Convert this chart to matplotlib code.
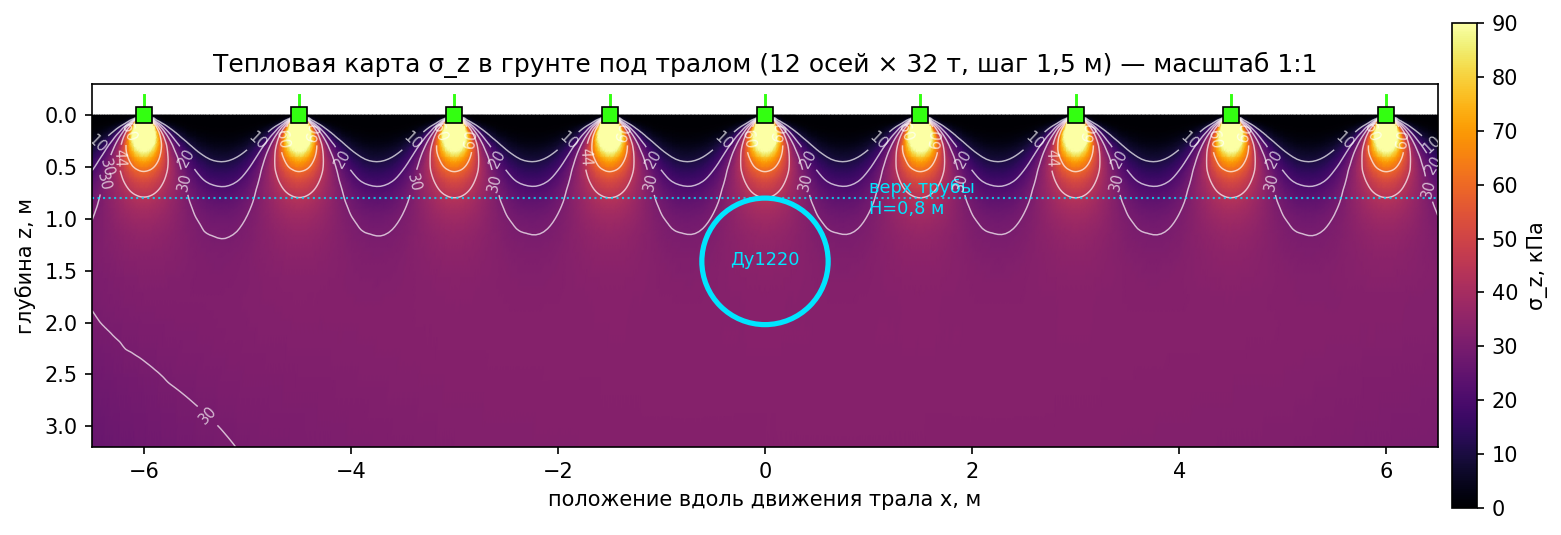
import numpy as np
import matplotlib
matplotlib.use("Agg")
import matplotlib.pyplot as plt
import matplotlib.tri as mtri
from matplotlib.patches import Circle

# axles visible in the frame
axles = [-6.0, -4.5, -3.0, -1.5, 0.0, 1.5, 3.0, 4.5, 6.0]

# sigma_z read around one axle: rows = depth, columns = distance from the axle
depths = [0, 0.05, 0.1, 0.15, 0.2, 0.25, 0.3, 0.4, 0.5, 0.6, 0.7, 0.8, 0.9, 1.0, 1.1, 1.2, 1.4, 1.7, 2.0, 2.5, 3.2]
offsets = [0, 0.05, 0.1, 0.15, 0.2, 0.25, 0.3, 0.4, 0.5, 0.6, 0.75]
sigma_tile = [
    [250, 0, 0, 0, 0, 0, 0, 0, 0, 0, 0],
    [250, 158, 25, 6.3, 2.2, 0.9, 0.46, 0.15, 0.06, 0.03, 0.03],
    [250, 203, 79, 30, 12.7, 6, 3.2, 1.1, 0.47, 0.28, 0.19],
    [211, 171, 101, 53, 27.4, 14.8, 8.4, 3.2, 1.44, 0.88, 0.62],
    [158, 140, 101, 65, 39.6, 24.1, 15, 6.3, 3.2, 1.95, 1.4],
    [127, 117, 94, 68.5, 47, 31.7, 21.3, 10.3, 5.5, 3.4, 2.54],
    [106, 100, 85.6, 67.6, 50.6, 36.8, 26.8, 14.3, 8.2, 5.3, 4.1],
    [80, 77, 70.5, 61, 51, 41, 33.3, 21, 13.7, 9.8, 7.9],
    [64.8, 63.4, 60, 54.6, 48.4, 41.8, 36, 25.7, 18.6, 14.4, 12.3],
    [55, 54.1, 52, 48.9, 44.9, 40.5, 36.5, 28.6, 22.5, 18.5, 16.6],
    [48.4, 48, 46.7, 44.6, 41.9, 38.9, 36.3, 30.6, 25.6, 22.3, 20.5],
    [43.9, 43.6, 42.7, 41.3, 39.5, 37.6, 35.8, 31.6, 27.8, 25.2, 23.7],
    [40.7, 40.5, 39.9, 39.1, 38, 36.6, 35.2, 32.2, 29.4, 27.3, 26.2],
    [38.5, 38.4, 38.1, 37.4, 36.7, 35.8, 34.7, 32.5, 30.5, 29, 28.1],
    [37, 36.9, 36.6, 36.2, 35.7, 35, 34.3, 32.7, 31.3, 30.1, 29.5],
    [35.8, 35.8, 35.6, 35.3, 34.9, 34.4, 33.9, 32.9, 31.7, 31, 30.5],
    [34.4, 34.4, 34.3, 34.2, 34, 33.8, 33.5, 33, 32.4, 32, 31.7],
    [33.5, 33.5, 33.4, 33.4, 33.3, 33.2, 33.2, 33, 32.8, 32.7, 32.6],
    [33.3, 33.3, 33.3, 33.3, 33.2, 33.2, 33.2, 33.2, 33.1, 33.1, 33.1],
    [33.2, 33.2, 33.2, 33.2, 33.2, 33.2, 33.2, 33.2, 33.2, 33.2, 33.2],
    [33.2, 33.2, 33.2, 33.2, 33.2, 33.2, 33.2, 33.2, 33.2, 33.2, 33.2],
]

# how much lower the field reads towards the ends of the axle row
drop_x = [-6.5, -6.2, -5.75, -5, -3, -1, 1, 3, 5, 6.5]
drop_z = [0, 0.5, 1.0, 1.5, 2.0, 2.5, 3.2]
drop_table = [
    [0, 0, 0, 0, 0, 0, 0, 0, 0, 0],
    [0.1, 0.08, 0.05, 0.03, 0, 0, 0, 0, 0, 0.03],
    [0.6, 0.5, 0.35, 0.2, 0.05, 0.02, 0.02, 0.03, 0.07, 0.2],
    [1.9, 1.4, 1.0, 0.55, 0.17, 0.07, 0.06, 0.09, 0.2, 0.55],
    [3.4, 2.6, 1.96, 1.12, 0.37, 0.17, 0.15, 0.2, 0.45, 1.1],
    [5.2, 4.0, 3.0, 1.85, 0.65, 0.31, 0.27, 0.37, 0.85, 1.85],
    [6.95, 5.7, 4.5, 2.97, 1.2, 0.62, 0.54, 0.7, 1.44, 3.0],
]

levels = [10, 20, 30, 44, 60]

# contour label spots
labels_10 = [(-6.45, 0.28), (-4.9, 0.25), (-3.4, 0.25), (-1.9, 0.25), (-0.4, 0.25),
             (1.1, 0.25), (2.6, 0.25), (4.1, 0.25), (5.6, 0.25), (6.43, 0.3)]
labels_20 = [(-6.38, 0.5), (-5.6, 0.42), (-4.08, 0.42), (-2.58, 0.42), (-1.08, 0.42),
             (0.42, 0.42), (1.92, 0.42), (3.42, 0.42), (4.92, 0.42), (6.42, 0.5)]
labels_30 = [(-6.35, 0.65), (-5.62, 0.65), (-3.39, 0.65), (-2.6, 0.65), (-1.11, 0.65),
             (0.39, 0.65), (1.89, 0.65), (3.39, 0.65), (4.89, 0.65), (6.38, 0.72), (-5.44, 2.95)]
labels_44 = [(-6.23, 0.41), (-4.68, 0.23), (-2.83, 0.23), (-1.72, 0.4), (-0.18, 0.23),
             (1.68, 0.23), (2.77, 0.41), (4.32, 0.23), (6.18, 0.23)]
labels_60 = [(-6.1, 0.18), (-4.39, 0.18), (-3.11, 0.18), (-1.39, 0.18), (0.11, 0.18),
             (1.39, 0.18), (3.11, 0.18), (4.61, 0.18), (5.89, 0.18)]

cyan = "#00e5ff"
green = "#33ff11"

# put the one-axle table side by side for every axle in the frame
depths = np.array(depths)
offsets = np.array(offsets)
sigma_tile = np.array(sigma_tile, dtype=float)
unit = np.hstack([sigma_tile[:, :0:-1], sigma_tile[:, :-1]])
unit_x = np.concatenate([-offsets[:0:-1], offsets[:-1]])
x = np.concatenate([a + unit_x for a in axles] + [[axles[-1] + offsets[-1]]])
field = np.hstack([unit] * len(axles) + [sigma_tile[:, -1:]])
keep = (x >= -6.5 - 1e-6) & (x <= 6.5 + 1e-6)
x = x[keep]
field = field[:, keep]

drop_cols = np.array([np.interp(x, drop_x, row) for row in drop_table])
drop = np.array([np.interp(depths, drop_z, drop_cols[:, i]) for i in range(len(x))]).T
field = field - drop

# regular mesh cells, each cut in two the same way
X, Z = np.meshgrid(x, depths)
nz, nx = X.shape
idx = np.arange(nz * nx).reshape(nz, nx)
a, b, c, d = idx[:-1, :-1].ravel(), idx[:-1, 1:].ravel(), idx[1:, :-1].ravel(), idx[1:, 1:].ravel()
cells = np.vstack([np.column_stack([a, b, c]), np.column_stack([b, d, c])])
triang = mtri.Triangulation(X.ravel(), Z.ravel(), cells)

# smooth in log space so the steep part near the axles does not ring
refiner = mtri.UniformTriRefiner(triang)
fine_tri, fine_log = refiner.refine_field(np.log1p(np.clip(field.ravel(), 0, None)), subdiv=2)
fine_field = np.expm1(fine_log)

fig = plt.figure(figsize=(1561 / 150, 535 / 150), dpi=150)
ax = fig.add_axes([92 / 1561, 88 / 535, 1346 / 1561, 363 / 535])
cax = fig.add_axes([1452 / 1561, 27 / 535, 25 / 1561, 485 / 535])

im = ax.tripcolor(fine_tri, np.clip(fine_field, 0, 140), shading="gouraud", cmap="inferno", vmin=0, vmax=90)
cs = ax.tricontour(fine_tri, fine_field, levels=levels, colors="white", linewidths=0.7, alpha=0.7)
spots = labels_10 + labels_20 + labels_30 + labels_44 + labels_60
texts = ax.clabel(cs, fmt="%d", fontsize=7, colors="white", manual=spots)
for t in texts:
    t.set_alpha(0.7)

for a_x in axles:
    ax.plot([a_x, a_x], [-0.19, 0], color=green, lw=1.4, zorder=4)
ax.plot(axles, np.zeros(len(axles)), "s", color=green, ms=7.8, mec="black", mew=0.8, zorder=5)

ax.axhline(0.8, color=cyan, ls=":", lw=1, alpha=0.8)
ax.add_patch(Circle((0, 1.41), 0.61, fill=False, ec=cyan, lw=2.5, zorder=4))
ax.text(0, 1.4, "Ду1220", color=cyan, fontsize=8.5, ha="center", va="center")
ax.text(1.0, 0.8, "верх трубы\nН=0,8 м", color=cyan, fontsize=8.5, ha="left", va="center")

ax.set_xlim(-6.5, 6.5)
ax.set_ylim(3.2, -0.3)
ax.set_xticks([-6, -4, -2, 0, 2, 4, 6])
ax.set_yticks([0, 0.5, 1, 1.5, 2, 2.5, 3])
ax.set_yticklabels(["0.0", "0.5", "1.0", "1.5", "2.0", "2.5", "3.0"])
ax.set_xlabel("положение вдоль движения трала x, м")
ax.set_ylabel("глубина z, м")
ax.set_title("Тепловая карта σ_z в грунте под тралом (12 осей × 32 т, шаг 1,5 м) — масштаб 1:1", fontsize=12)

cb = fig.colorbar(im, cax=cax)
cb.set_ticks(range(0, 100, 10))
cb.set_label("σ_z, кПа")

fig.savefig("out.png", dpi=150)
